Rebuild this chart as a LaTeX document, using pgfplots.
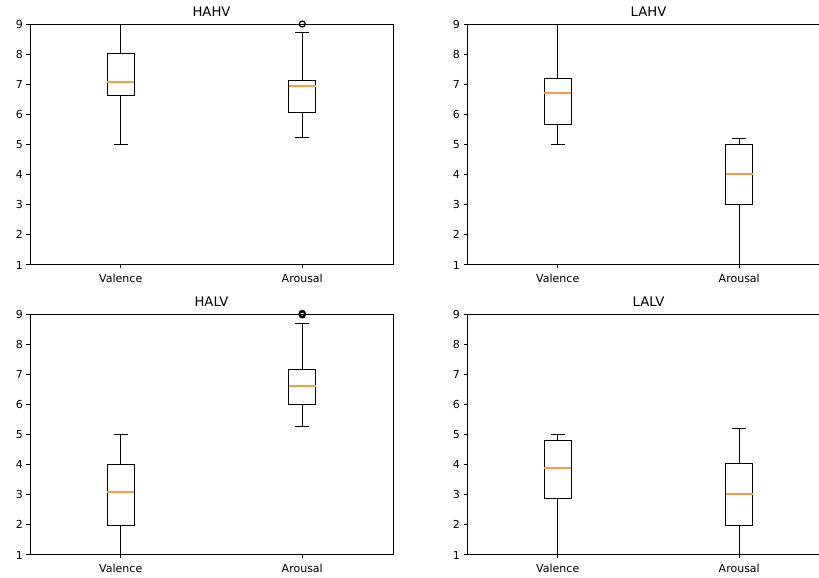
\documentclass[border=0pt]{standalone}
\usepackage{fontspec}
\setmainfont{DejaVu Sans}
\usepackage{pgfplots}
\pgfplotsset{compat=1.18}
\usepgfplotslibrary{statistics}
\definecolor{mplorange}{HTML}{FF9A40}
\pgfplotsset{
 mybox/.style={
  scale only axis, width=363pt, height=241pt,
  xmin=0.5,xmax=2.5,ymin=1,ymax=9,
  xtick={1,2}, xticklabels={Valence,Arousal},
  ytick={1,2,3,4,5,6,7,8,9},
  tick align=outside, tick pos=left,
  major tick length=3.5pt,
  every tick/.style={black, line width=1pt},
  axis line style={line width=1pt},
  /pgf/number format/assume math mode=true,
  tick label style={font=\fontsize{11}{13}\selectfont},
  xticklabel style={yshift=-2pt},
  title style={font=\fontsize{13.2}{15}\selectfont, yshift=-2pt},
  boxplot/draw direction=y,
  boxplot/box extend=0.15,
  boxplot/whisker extend=0.075,
  boxplot/every median/.style={draw=mplorange, line width=2pt},
  anchor=south west,
  clip=false,
 },
 bx/.style={black, line width=1pt, solid, mark=o, mark size=3pt, mark options={black, solid, line width=1.2pt}},
}
\begin{document}
\begin{tikzpicture}
\path[use as bounding box] (0,0) rectangle (819pt,578pt);
% HAHV
\begin{axis}[mybox, at={(30pt,313pt)}, title={HAHV}]
\addplot[bx, boxplot prepared={draw position=1, lower whisker=5.0, lower quartile=6.61, median=7.08, upper quartile=8.03, upper whisker=9.0}] coordinates {};
\addplot[bx, boxplot prepared={draw position=2, lower whisker=5.23, lower quartile=6.05, median=6.94, upper quartile=7.13, upper whisker=8.73}] coordinates {(0,9.0)};
\end{axis}
% LAHV
\begin{axis}[mybox, at={(467pt,313pt)}, title={LAHV}]
\addplot[bx, boxplot prepared={draw position=1, lower whisker=5.0, lower quartile=5.67, median=6.72, upper quartile=7.19, upper whisker=9.0}] coordinates {};
\addplot[bx, boxplot prepared={draw position=2, lower whisker=1.0, lower quartile=3.02, median=4.03, upper quartile=5.0, upper whisker=5.19}] coordinates {};
\end{axis}
% HALV
\begin{axis}[mybox, at={(30pt,23pt)}, title={HALV}]
\addplot[bx, boxplot prepared={draw position=1, lower whisker=1.0, lower quartile=1.99, median=3.1, upper quartile=4.02, upper whisker=5.01}] coordinates {};
\addplot[bx, boxplot prepared={draw position=2, lower whisker=5.28, lower quartile=6.0, median=6.61, upper quartile=7.17, upper whisker=8.69}] coordinates {(0,8.97) (0,9.0) (0,9.02)};
\end{axis}
% LALV
\begin{axis}[mybox, at={(467pt,23pt)}, title={LALV}]
\addplot[bx, boxplot prepared={draw position=1, lower whisker=1.0, lower quartile=2.88, median=3.9, upper quartile=4.79, upper whisker=5.0}] coordinates {};
\addplot[bx, boxplot prepared={draw position=2, lower whisker=1.0, lower quartile=1.99, median=3.02, upper quartile=4.05, upper whisker=5.19}] coordinates {};
\end{axis}
\end{tikzpicture}
\end{document}
